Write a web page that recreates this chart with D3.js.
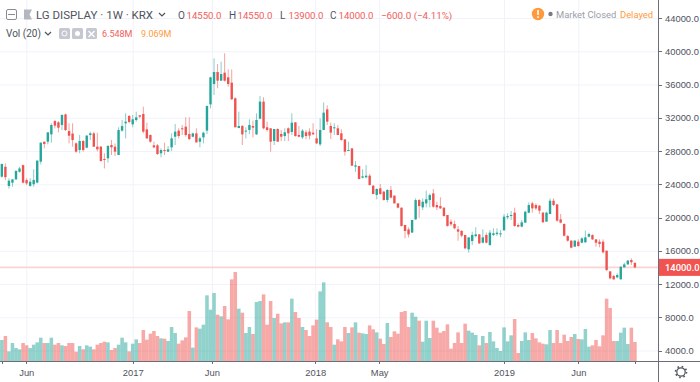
<!DOCTYPE html>
<html>
<head>
<meta charset="utf-8">
<script src="https://cdnjs.cloudflare.com/ajax/libs/d3/7.8.5/d3.min.js"></script>
<style>
    html, body { margin: 0; padding: 0; background: #fff; overflow: hidden; }
    svg { display: block; font-family: Roboto, sans-serif; }
    .grid line { stroke: #f0f3fa; stroke-width: 1; }
    .grid path { display: none; }
    .axis path, .axis line { stroke: #6b6e78; shape-rendering: crispEdges; }
    .axis text { fill: #50535e; font-size: 9.4px; }
</style>
</head>
<body>
<div id="chart"></div>
<script>
// weekly bars (KRW)
var opens = [
    24910,26100,23790,24190,24590,25500,26300,24500,23800,24000,
    24200,26720,29120,29120,30000,31600,31450,31130,32400,30400,
    30100,28920,28120,29200,28400,29920,30120,28520,28520,27040,
    27120,28720,28520,27520,30450,31330,32210,31210,31730,32290,
    32450,30600,29920,28680,28680,27720,28120,27920,28440,29720,
    30450,30730,30930,30040,29720,30120,29120,29640,30450,33610,
    36060,37500,36460,37420,36860,36220,34340,30770,31010,30330,
    30530,31010,30000,31890,33940,30850,30730,29200,30650,30050,
    29800,30730,30290,31450,29930,29640,30250,30330,30200,29520,
    28800,30530,33010,31010,30730,30730,30130,29400,28000,28320,
    26115,26195,24790,24830,25030,23830,22710,23510,23110,22110,
    23310,22630,21700,21180,19100,18570,18180,19780,22100,21220,
    21700,22100,22900,21500,21380,21180,20300,19500,19220,18580,
    18380,17900,16170,17170,17770,17970,16970,17900,16690,17900,
    18010,17970,18450,20020,20180,20580,19100,18900,19380,20580,
    21700,21500,21420,20580,19500,20420,22020,21580,19780,19220,
    17770,17210,16490,17090,16970,17010,17690,17890,17370,17090,
    17090,16010,13520,12960,12800,12560,14000,14360,14890,14550
];
var highs = [
    26500,26500,24710,24600,25700,26100,26350,24710,24710,25800,
    26900,29050,29120,30250,31330,31730,31600,32410,32500,31330,
    31330,29050,29920,29320,29920,30320,30320,30200,28600,27720,
    28720,29320,28920,30850,31730,32530,32330,32330,32730,32330,
    33330,31400,30000,29120,28840,28320,29000,28600,30120,31250,
    30730,31130,32050,32050,30200,30730,29720,30330,33490,36940,
    39150,38470,38750,39750,37820,37820,34460,32730,31130,30850,
    31810,31650,32530,34620,34460,31530,30730,30650,30730,30530,
    30730,30850,32530,31450,31010,30650,30530,30730,31330,30610,
    31930,33850,33490,31410,31330,31130,30610,29400,29120,28320,
    26800,26200,25800,26300,25230,23910,23510,24030,23230,23430,
    23790,22630,21720,21220,19100,18820,19700,22300,22230,22300,
    23230,22900,23430,21900,22430,21220,20300,19780,19620,18980,
    18500,17900,17610,18300,18820,18010,18580,18180,18500,18700,
    18700,18500,20420,20500,20780,21180,19300,19700,20820,21820,
    21900,21700,21500,20700,20700,22300,22300,21580,20420,19300,
    17900,17290,17300,17370,17610,18420,18170,17970,17370,17370,
    17370,16010,13520,13100,13280,14100,14560,14900,15090,14550
];
var lows = [
    24800,24500,23470,23700,24500,25400,24100,23900,23700,23700,
    24100,26400,28320,28800,29000,30720,30240,30520,30400,28920,
    28520,27800,27720,27920,28320,29320,28480,27950,26720,25900,
    26600,27520,27400,27520,30330,29520,31330,30850,31530,31930,
    30120,29440,29000,28320,27520,27240,27520,27920,28000,28720,
    29520,29920,29720,29320,29640,29000,28440,28920,30040,33130,
    34740,35540,36460,36340,35740,34140,30850,30730,28720,29520,
    30050,29640,29930,31810,30610,30330,27920,28720,29120,29200,
    29200,29200,29930,29720,29640,29440,29400,29400,29930,28840,
    28600,30530,31130,29440,29930,29930,29240,27440,28000,26200,
    25500,24600,24710,24710,23830,22790,22190,22710,22030,21820,
    22300,21700,21100,18900,17490,17600,18180,19700,19980,20900,
    21220,21220,21180,20900,21020,20100,18900,18980,18580,17210,
    17610,16170,15770,16690,17610,16810,16890,16890,16610,17770,
    17770,17610,18450,19780,19700,18900,18820,18820,19380,20500,
    20580,20900,20420,19380,19500,20420,21380,19500,19300,17700,
    17090,16290,16490,16490,16890,16970,17610,17290,16490,16410,
    15690,13560,12560,12500,12680,12560,14000,14300,14290,13900
];
var closes = [
    26430,24850,24430,24590,25600,25900,24190,24100,24300,24510,
    26840,29000,28840,30240,31130,31050,30800,32330,30520,29840,
    29320,27920,29200,28120,29850,30120,28520,28200,26800,26920,
    28600,28440,27920,30520,31000,31530,31490,31810,32050,32130,
    30330,29520,29120,28440,27640,28120,28000,28200,29520,30330,
    29800,30610,29920,29440,30120,29040,29520,30200,33410,36860,
    37500,36460,37260,36460,36060,34220,30850,31010,30000,30450,
    31130,30810,31730,33940,30730,30530,29120,30650,29120,29720,
    30250,30130,31410,29800,29720,30450,29800,29850,30010,28920,
    30530,32610,31530,30210,30850,29930,29320,27920,28120,26235,
    26275,24630,24950,25030,23910,22830,23430,22830,22110,23310,
    22390,21700,21180,18980,18380,17970,19700,22100,21380,21900,
    22190,22700,21300,21220,21100,20180,18980,19180,18700,18300,
    17810,16290,17610,17900,17970,16890,17610,16970,18180,18100,
    18180,18100,20100,20180,20300,18980,18900,19420,20700,21500,
    21100,21100,20820,19420,20580,22020,21500,19620,19380,17810,
    17210,16370,17210,16570,17490,17610,18010,17370,16970,16810,
    15810,13680,12680,12560,13080,14080,14360,14810,14610,14000
];
// volume in millions of shares
var volumes = [
    7.24,8.62,3.33,6.20,4.48,4.02,6.20,5.40,4.48,5.63,
    6.43,8.04,6.20,6.20,8.04,5.63,6.20,5.40,5.17,6.20,
    6.20,3.22,5.17,4.02,5.40,4.94,4.02,5.63,6.20,6.66,
    6.43,3.79,4.48,5.63,8.04,6.43,3.33,5.97,7.47,6.20,
    10.69,7.35,9.42,10.34,8.62,7.81,7.70,6.89,11.72,9.65,
    5.97,7.12,8.16,17.24,4.60,11.60,11.15,12.52,22.64,17.69,
    23.44,15.97,15.40,18.96,14.36,28.15,30.68,18.04,16.66,9.65,
    11.72,9.31,20.34,20.68,22.98,12.52,20.68,14.82,16.32,12.98,
    13.33,13.33,21.49,16.89,14.82,11.72,10.69,8.62,12.29,14.25,
    24.01,27.12,13.33,11.72,5.63,7.47,6.78,11.72,9.65,11.60,
    13.33,9.77,9.54,9.31,12.29,10.92,9.88,7.70,5.86,13.10,
    8.27,10.23,9.42,16.89,17.24,11.72,16.66,15.28,13.90,6.66,
    13.90,7.93,13.90,11.49,9.77,10.34,12.64,4.25,6.20,9.88,
    6.20,12.87,10.46,9.77,8.96,5.40,8.62,6.20,10.00,6.78,
    4.48,3.45,11.60,6.78,8.85,14.48,2.76,6.89,9.88,7.24,
    9.65,7.81,6.43,5.97,5.75,10.69,6.20,10.69,6.20,9.08,
    6.89,8.27,9.31,7.58,7.47,11.03,4.94,5.40,7.24,5.06,
    8.85,21.49,18.27,6.89,6.89,9.77,11.49,5.86,11.49,6.548
];
var priceTicks = [4000, 8000, 12000, 16000, 20000, 24000, 28000, 32000, 36000, 40000, 44000];
var timeLabels = ["Jun", "2017", "Jun", "2018", "May", "2019", "Jun"];
var timeBars = [6.9, 37, 59.4, 88.6, 106.7, 142, 163];
var lastPrice = 14000;

var UP = "#26a69a", DOWN = "#ef5350";
var width = 700, height = 382, axisX = 658, axisY = 361;

var svg = d3.select("#chart").append("svg")
    .attr("width", width)
    .attr("height", height);

var bars = d3.range(closes.length);

// one unit is one weekly bar
var x = d3.scaleLinear().domain([0, 179]).range([1.85, 634.9]);
var y = d3.scaleLinear().domain([4000, 44000]).range([350.5, 18]);
var yVol = d3.scaleLinear().domain([0, 40]).range([axisY, 245]);
var step = x(1) - x(0);

function color(i) { return closes[i] >= opens[i] ? UP : DOWN; }

// grid
svg.append("g").attr("class", "grid")
    .attr("transform", "translate(" + axisX + ",0)")
    .call(d3.axisLeft(y).tickValues(priceTicks).tickSize(axisX).tickFormat(""));

svg.append("g").attr("class", "grid")
    .attr("transform", "translate(0," + axisY + ")")
    .call(d3.axisTop(x).tickValues(timeBars).tickSize(axisY).tickFormat(""));

// volume
svg.append("g").selectAll("rect")
    .data(bars)
    .enter().append("rect")
    .attr("x", function(i) { return x(i) - step / 2; })
    .attr("width", step)
    .attr("y", function(i) { return yVol(volumes[i]); })
    .attr("height", function(i) { return axisY - yVol(volumes[i]); })
    .attr("fill", color)
    .attr("fill-opacity", 0.5);

// last price line
svg.append("line")
    .attr("x1", 0)
    .attr("x2", axisX)
    .attr("y1", y(lastPrice))
    .attr("y2", y(lastPrice))
    .attr("stroke", "#fbd3d2")
    .attr("stroke-width", 1.6);

// candles
var candles = svg.append("g").selectAll("g")
    .data(bars)
    .enter().append("g");

candles.append("line")
    .attr("x1", function(i) { return x(i); })
    .attr("x2", function(i) { return x(i); })
    .attr("y1", function(i) { return y(highs[i]); })
    .attr("y2", function(i) { return y(lows[i]); })
    .attr("stroke", color)
    .attr("stroke-opacity", 0.55)
    .attr("stroke-width", 1);

candles.append("rect")
    .attr("x", function(i) { return x(i) - 1.2; })
    .attr("width", 2.4)
    .attr("y", function(i) { return y(Math.max(opens[i], closes[i])); })
    .attr("height", function(i) { return Math.max(1, Math.abs(y(opens[i]) - y(closes[i]))); })
    .attr("fill", color);

// axes
svg.append("g").attr("class", "axis")
    .attr("transform", "translate(" + axisX + ",0)")
    .call(d3.axisRight(y).tickValues(priceTicks).tickSize(4).tickPadding(3)
        .tickFormat(function(d) { return d3.format(".1f")(d); }));

svg.append("line")
    .attr("x1", axisX + 0.5).attr("x2", axisX + 0.5)
    .attr("y1", 0).attr("y2", height)
    .attr("stroke", "#6b6e78");

svg.append("g").attr("class", "axis")
    .attr("transform", "translate(0," + axisY + ")")
    .call(d3.axisBottom(x).tickValues(timeBars).tickSize(3).tickPadding(5)
        .tickFormat(function(d, i) { return timeLabels[i]; }))
    .selectAll("text")
    .attr("font-weight", function(d, i) { return /^\d/.test(timeLabels[i]) ? 500 : 400; });

svg.append("line")
    .attr("x1", 0).attr("x2", width)
    .attr("y1", axisY + 0.5).attr("y2", axisY + 0.5)
    .attr("stroke", "#6b6e78");

// last price label
svg.append("rect")
    .attr("x", axisX + 1).attr("width", 41)
    .attr("y", y(lastPrice) - 8.5).attr("height", 17)
    .attr("fill", "#f05350");
svg.append("text")
    .attr("x", axisX + 7).attr("y", y(lastPrice) + 3.5)
    .attr("fill", "#fff").attr("font-size", "9.4px").attr("font-weight", 500)
    .text(d3.format(".1f")(lastPrice));

// header
function label(xPos, yPos, str, fill, size) {
    return svg.append("text")
        .attr("x", xPos).attr("y", yPos)
        .attr("fill", fill).attr("font-size", size + "px")
        .text(str);
}

function box(xPos, yPos) {
    svg.append("rect")
        .attr("x", xPos).attr("y", yPos).attr("width", 11).attr("height", 11).attr("rx", 1.5)
        .attr("fill", "#c5c8d0");
}

function caret(xPos, yPos) {
    svg.append("path")
        .attr("d", "M" + xPos + "," + yPos + "l3,3l3,-3")
        .attr("fill", "none").attr("stroke", "#50535e").attr("stroke-width", 1.2);
}

var headRow = 18.5, volRow = 37;
svg.append("rect").attr("x", 6.5).attr("y", 9.5).attr("width", 10).attr("height", 10).attr("rx", 1.5)
    .attr("fill", "#fff").attr("stroke", "#8a8d96");
svg.append("line").attr("x1", 8).attr("x2", 15).attr("y1", 14.5).attr("y2", 14.5).attr("stroke", "#8a8d96");
svg.append("path").attr("d", "M24,9.5h8l-2.5,5l2.5,5h-8z").attr("fill", "#b4b7c0");

label(36, headRow, "LG DISPLAY · 1W · KRX", "#50535e", 11.5);
caret(159, 13);

var red = "#f0605d", orange = "#ff9a3c";
var ohlc = [["O", "14550.0", 178], ["H", "14550.0", 229], ["L", "13900.0", 280], ["C", "14000.0", 330]];
ohlc.forEach(function(d) {
    label(d[2], headRow, d[0], "#50535e", 10);
    label(d[2] + 8.5, headRow, d[1], red, 9.6);
});
label(381, headRow, "−600.0 (−4.11%)", red, 9.8);

svg.append("circle").attr("cx", 538).attr("cy", 14).attr("r", 6.2).attr("fill", orange);
svg.append("rect").attr("x", 537.2).attr("y", 10).attr("width", 1.6).attr("height", 5).attr("fill", "#fff");
svg.append("rect").attr("x", 537.2).attr("y", 16.3).attr("width", 1.6).attr("height", 1.6).attr("fill", "#fff");
svg.append("circle").attr("cx", 550.5).attr("cy", 14).attr("r", 2.2).attr("fill", "#787b86");
label(556, headRow - 1, "Market Closed", "#9b9ea8", 9.4);
label(620, headRow - 1, "Delayed", orange, 9.4);

label(6, volRow, "Vol (20)", "#50535e", 10);
caret(45, 32);
box(59, 28);
box(72, 28);
box(86, 28);
svg.append("circle").attr("cx", 64.5).attr("cy", 33.5).attr("r", 2.5).attr("fill", "none").attr("stroke", "#fff");
svg.append("circle").attr("cx", 77.5).attr("cy", 33.5).attr("r", 2.5).attr("fill", "#fff");
svg.append("path").attr("d", "M88.5,31l6,6M94.5,31l-6,6").attr("stroke", "#fff").attr("stroke-width", 1.4);
label(102, volRow, "6.548M", red, 9);
label(141, volRow, "9.069M", orange, 9);

// settings gear in the corner
svg.append("circle").attr("cx", 681).attr("cy", 372).attr("r", 4.2)
    .attr("fill", "none").attr("stroke", "#50535e").attr("stroke-width", 1.2);
svg.append("circle").attr("cx", 681).attr("cy", 372).attr("r", 5.5)
    .attr("fill", "none").attr("stroke", "#50535e").attr("stroke-width", 1.6).attr("stroke-dasharray", "1.6 2.72");
</script>
</body>
</html>
